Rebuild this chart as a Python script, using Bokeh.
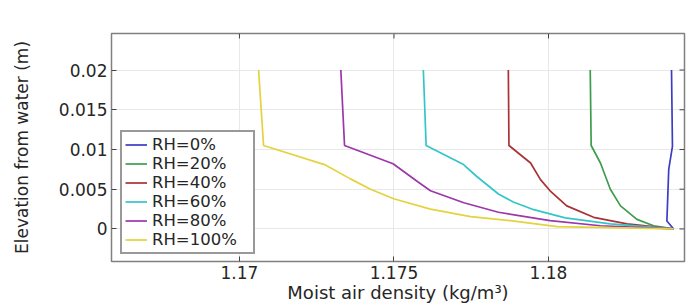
import math
from bokeh.plotting import figure
from bokeh.models import Range1d, FixedTicker, Legend, LegendItem
from bokeh.embed import file_html
from bokeh.resources import INLINE

# ---- data ----
labels = ["RH=0%", "RH=20%", "RH=40%", "RH=60%", "RH=80%", "RH=100%"]
colors = ["#3c3cc4", "#3f9c4e", "#a83236", "#33c6c8", "#9c36aa", "#e4d23e"]

x_rh0 = [1.18398, 1.18401, 1.18389, 1.18383, 1.18405]
y_rh0 = [0.02, 0.0104, 0.0075, 0.001, 0.0]

x_rh20 = [1.18135, 1.18138, 1.18168, 1.18200, 1.18233, 1.18286, 1.18340, 1.18405]
y_rh20 = [0.02, 0.0105, 0.0083, 0.005, 0.0029, 0.0012, 0.0004, 0.0]

x_rh40 = [1.17870, 1.17872, 1.17942, 1.17974, 1.18005, 1.18059, 1.18146, 1.18254, 1.18405]
y_rh40 = [0.02, 0.0105, 0.0083, 0.0062, 0.0048, 0.0029, 0.00146, 0.00063, 0.0]

x_rh60 = [1.17595, 1.17604, 1.17725, 1.17768, 1.17838, 1.17886, 1.17946, 1.18054, 1.18200, 1.18405]
y_rh60 = [0.02, 0.0105, 0.0081, 0.0066, 0.0044, 0.0034, 0.0025, 0.0014, 0.00063, 0.0]

x_rh80 = [1.17328, 1.17340, 1.17497, 1.17578, 1.17618, 1.17726, 1.17838, 1.18005, 1.18168, 1.18405]
y_rh80 = [0.02, 0.0105, 0.0082, 0.0059, 0.0048, 0.0033, 0.0021, 0.00104, 0.0004, 0.0]

x_rh100 = [1.17062, 1.17078, 1.17275, 1.17359, 1.17424, 1.17499, 1.17618, 1.17748, 1.17877, 1.18028, 1.18405]
y_rh100 = [0.02, 0.0105, 0.0081, 0.0063, 0.0050, 0.0038, 0.0025, 0.00154, 0.00104, 0.0003, 0.0]

xs = [x_rh0, x_rh20, x_rh40, x_rh60, x_rh80, x_rh100]
ys = [y_rh0, y_rh20, y_rh40, y_rh60, y_rh80, y_rh100]

x_ticks = [1.17, 1.175, 1.18]
x_tick_labels = ["1.17", "1.175", "1.18"]
y_ticks = [0.0, 0.005, 0.01, 0.015, 0.02]
y_tick_labels = ["0", "0.005", "0.01", "0.015", "0.02"]

x_lim = (1.16586, 1.1844)
y_lim = (-0.0041, 0.0246)

FONT = "DejaVu Sans"

p = figure(width=692, height=306, output_backend="svg", toolbar_location=None,
           x_range=Range1d(*x_lim), y_range=Range1d(*y_lim),
           min_border_left=111, min_border_top=33, min_border_bottom=45,
           min_border_right=8)

p.outline_line_color = "#808080"
p.outline_line_width = 1.5
p.background_fill_color = "white"
p.border_fill_color = "white"

p.xgrid.grid_line_color = "#e8e8e8"
p.ygrid.grid_line_color = "#e8e8e8"
p.xgrid.ticker = FixedTicker(ticks=x_ticks)
p.ygrid.ticker = FixedTicker(ticks=y_ticks)

for ax, ticks, tl in ((p.xaxis[0], x_ticks, x_tick_labels), (p.yaxis[0], y_ticks, y_tick_labels)):
    ax.ticker = FixedTicker(ticks=ticks)
    ax.major_label_overrides = dict(zip(ticks, tl))
    ax.minor_tick_line_color = None
    ax.major_tick_in = 5
    ax.major_tick_out = 0
    ax.major_tick_line_color = "#444444"
    ax.axis_line_color = None
    ax.major_label_text_font = FONT
    ax.major_label_text_font_size = "17px"
    ax.major_label_text_color = "#262626"
    ax.axis_label_text_font = FONT
    ax.axis_label_text_font_style = "normal"
    ax.axis_label_text_color = "#262626"

p.xaxis.axis_label = "Moist air density (kg/m\u00b3)"
p.yaxis.axis_label = "Elevation from water (m)"
p.xaxis.axis_label_text_font_size = "18px"
p.yaxis.axis_label_text_font_size = "17px"
p.xaxis.major_label_standoff = 4
p.xaxis.axis_label_standoff = 0
p.yaxis.major_label_standoff = 4
p.yaxis.axis_label_standoff = 24

# mirrored tick marks on the right and top frame edges
p.scatter([x_lim[1]] * len(y_ticks), y_ticks, marker="dash", size=10,
          line_color="#444444", line_width=1)
p.scatter(x_ticks, [y_lim[1]] * len(x_ticks), marker="dash", size=10, angle=math.pi / 2,
          line_color="#444444", line_width=1)

items = []
for x, y, c, lab in zip(xs, ys, colors, labels):
    r = p.line(x, y, line_color=c, line_width=1.7)
    items.append(LegendItem(label=lab, renderers=[r]))

legend = Legend(items=items, location=(9, 7))
legend.label_text_font = FONT
legend.label_text_font_size = "16.5px"
legend.label_text_color = "#262626"
legend.label_height = 17
legend.label_width = 98
legend.glyph_height = 17
legend.glyph_width = 22
legend.spacing = 0
legend.padding = 3
legend.margin = 0
legend.label_standoff = 5
legend.border_line_color = "#333333"
legend.border_line_width = 2
legend.background_fill_alpha = 1.0
p.add_layout(legend, "center")

open("out.html", "w").write(file_html(p, INLINE))
